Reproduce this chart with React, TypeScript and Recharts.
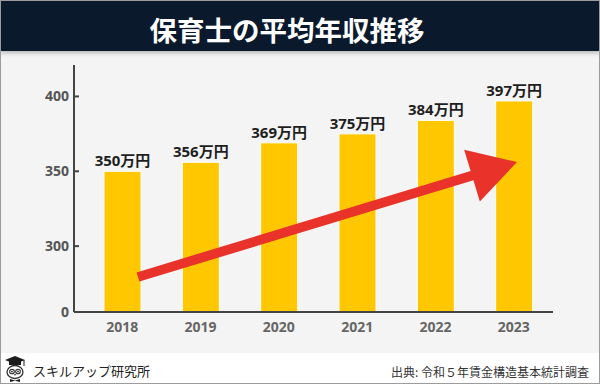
import React from 'react';
import { BarChart, Bar, XAxis, YAxis, LabelList } from 'recharts';

// values (万円)
const years = ['2018', '2019', '2020', '2021', '2022', '2023'];
const salaries = [350, 356, 369, 375, 384, 397];
// the axis is broken: the bottom tick stands for 0
const yTicks = [256, 300, 350, 400];
const yDomain = [256, 421];

const title = '保育士の平均年収推移';
const brand = 'スキルアップ研究所';
const source = '出典: 令和５年賃金構造基本統計調査';

const data = years.map((year, i) => ({ year, salary: salaries[i] }));

const NUM_FONT = "'Open Sans', 'Noto Sans CJK JP', sans-serif";
const JP_FONT = "'Noto Sans CJK JP', sans-serif";

// red trend arrow drawn on top of the chart
function TrendArrow() {
  const sx = 138, sy = 277;
  const tx = 517, ty = 162;
  const len = Math.hypot(tx - sx, ty - sy);
  const ux = (tx - sx) / len, uy = (ty - sy) / len;
  const px = -uy, py = ux;
  const head = 47, halfHead = 27, halfShaft = 4.8;
  const bx = tx - ux * head, by = ty - uy * head;
  const pts = [
    [sx + px * halfShaft, sy + py * halfShaft],
    [bx + px * halfShaft, by + py * halfShaft],
    [bx + px * halfHead, by + py * halfHead],
    [tx, ty],
    [bx - px * halfHead, by - py * halfHead],
    [bx - px * halfShaft, by - py * halfShaft],
    [sx - px * halfShaft, sy - py * halfShaft],
  ].map(p => p.join(',')).join(' ');
  return (
    <svg width={600} height={384} style={{ position: 'absolute', left: 0, top: 0, pointerEvents: 'none' }}>
      <polygon points={pts} fill="#e8322a" />
    </svg>
  );
}

function Owl() {
  return (
    <svg width={22} height={28} style={{ position: 'absolute', left: 4, top: 355 }}>
      <polygon points="11,1 21,5 11,9 1,5" fill="#1b1b1b" />
      <rect x={5} y={6} width={12} height={4} fill="#1b1b1b" />
      <line x1={20} y1={5} x2={20} y2={11} stroke="#1b1b1b" strokeWidth={1} />
      <ellipse cx={11} cy={17} rx={8} ry={6.5} fill="#fff" stroke="#333" strokeWidth={1.3} />
      <circle cx={8} cy={16.5} r={2.3} fill="#fff" stroke="#333" strokeWidth={1.1} />
      <circle cx={14} cy={16.5} r={2.3} fill="#fff" stroke="#333" strokeWidth={1.1} />
      <circle cx={8} cy={16.5} r={0.9} fill="#333" />
      <circle cx={14} cy={16.5} r={0.9} fill="#333" />
      <polygon points="10,19 12,19 11,21" fill="#333" />
      <polygon points="6,24 11,25.5 16,24 16,27 11,25.8 6,27" fill="#1b1b1b" />
    </svg>
  );
}

export default function App() {
  return (
    <div style={{ position: 'absolute', left: 0, top: 0, width: 600, height: 384, background: '#f4f4f4', overflow: 'hidden' }}>
      {/* footer band */}
      <div style={{ position: 'absolute', left: 0, top: 353, width: 600, height: 31, background: '#ffffff' }} />

      {/* title bar */}
      <div
        style={{
          position: 'absolute', left: 0, top: 0, width: 600, height: 51,
          background: '#0b192c', boxShadow: '0 2px 4px rgba(0,0,0,0.25)',
        }}
      >
        <div
          style={{
            position: 'absolute', left: 0, top: 15, width: 574, textAlign: 'center',
            color: '#ffffff', fontFamily: JP_FONT, fontWeight: 700, fontSize: 27.5, lineHeight: '28px',
          }}
        >
          {title}
        </div>
      </div>

      <div style={{ position: 'absolute', left: 0, top: 0 }}>
        <BarChart width={600} height={384} data={data} margin={{ top: 65, right: 47, bottom: 42, left: 14 }}>
          <XAxis
            dataKey="year"
            height={30}
            tickLine={false}
            tickSize={0}
            tickMargin={10}
            padding={{ left: 9, right: 0 }}
            axisLine={{ stroke: '#444', strokeWidth: 2 }}
            tick={{ fill: '#666', fontSize: 14, fontWeight: 700, fontFamily: NUM_FONT }}
          />
          <YAxis
            width={60}
            type="number"
            domain={yDomain}
            allowDataOverflow
            ticks={yTicks}
            tickSize={-5}
            tickMargin={10}
            tickFormatter={(v: number) => (v === yTicks[0] ? '0' : String(v))}
            tickLine={{ stroke: '#444', strokeWidth: 2 }}
            axisLine={{ stroke: '#444', strokeWidth: 2 }}
            tick={{ fill: '#555', fontSize: 14, fontWeight: 700, fontFamily: NUM_FONT }}
          />
          <Bar dataKey="salary" fill="#ffc700" stroke="#ffffff" strokeWidth={1} barSize={37} isAnimationActive={false}>
            <LabelList
              dataKey="salary"
              position="top"
              offset={5}
              formatter={(v: number) => `${v}万円`}
              style={{ fill: '#1e1e1e', fontSize: 15, fontWeight: 700, fontFamily: NUM_FONT }}
            />
          </Bar>
        </BarChart>
      </div>

      <TrendArrow />

      {/* footer */}
      <Owl />
      <div style={{ position: 'absolute', left: 33, top: 362, fontFamily: JP_FONT, fontSize: 13, lineHeight: '18px', color: '#222' }}>
        {brand}
      </div>
      <div style={{ position: 'absolute', right: 11, top: 363, fontFamily: JP_FONT, fontSize: 12, lineHeight: '18px', color: '#333' }}>
        {source}
      </div>

      {/* outer frame */}
      <div style={{ position: 'absolute', left: 0, top: 0, width: 600, height: 384, boxSizing: 'border-box', border: '1px solid #9c9c9c', pointerEvents: 'none' }} />
    </div>
  );
}
